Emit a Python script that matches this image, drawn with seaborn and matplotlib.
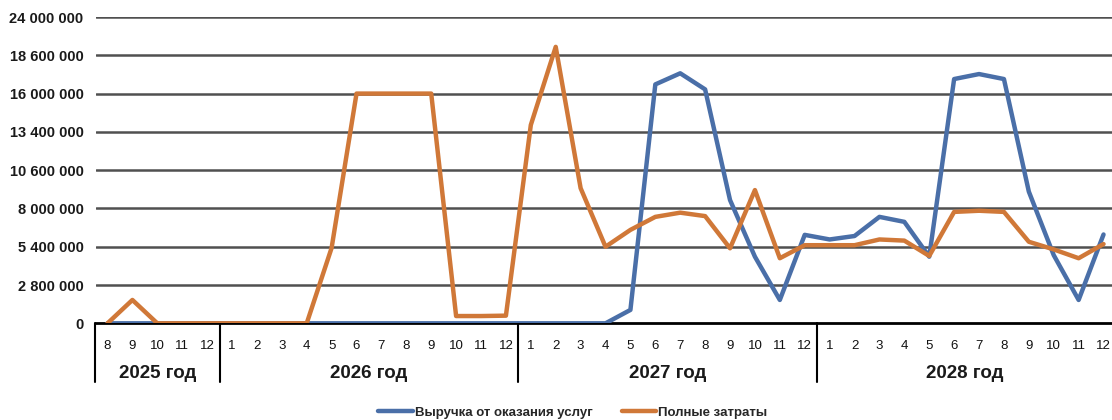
import matplotlib
matplotlib.use("Agg")
import matplotlib.pyplot as plt
import pandas as pd
import seaborn as sns


# months on the x axis, grouped by year
MONTHS_2025 = [8, 9, 10, 11, 12]
MONTHS_FULL = [1, 2, 3, 4, 5, 6, 7, 8, 9, 10, 11, 12]
YEARS = ["2025 год", "2026 год", "2027 год", "2028 год"]
MONTH_LABELS = MONTHS_2025 + MONTHS_FULL + MONTHS_FULL + MONTHS_FULL

REVENUE = [
    0, 0, 0, 0, 0,
    0, 0, 0, 0, 0, 0, 0, 0, 0, 0, 0, 0,
    0, 0, 0, 0, 1050000, 18720000, 19590000, 18330000, 9660000, 5220000, 1830000, 6930000,
    6570000, 6840000, 8340000, 7950000, 5220000, 19140000, 19530000, 19140000, 10320000, 5340000, 1830000, 6960000,
]
COSTS = [
    0, 1830000, 0, 0, 0,
    0, 0, 0, 0, 5910000, 18000000, 18000000, 18000000, 18000000, 570000, 570000, 600000,
    15540000, 21660000, 10590000, 6000000, 7320000, 8340000, 8670000, 8400000, 5880000, 10440000, 5100000, 6120000,
    6120000, 6120000, 6570000, 6480000, 5280000, 8730000, 8820000, 8730000, 6390000, 5790000, 5100000, 6210000,
]

Y_TICKS = [0, 3000000, 6000000, 9000000, 12000000, 15000000, 18000000, 21000000, 24000000]
Y_TICK_LABELS = ["0", "2 800 000", "5 400 000", "8 000 000", "10 600 000",
                 "13 400 000", "16 000 000", "18 600 000", "24 000 000"]

SERIES_NAMES = ["Выручка от оказания услуг", "Полные затраты"]
COLORS = ["#4A6FA8", "#D07838"]


def main() -> None:
    sns.set_theme(style="white")
    plt.rcParams["font.family"] = ["Liberation Sans", "DejaVu Sans"]

    n = len(MONTH_LABELS)
    df = pd.DataFrame({
        "idx": list(range(n)) * 2,
        "value": REVENUE + COSTS,
        "series": [SERIES_NAMES[0]] * n + [SERIES_NAMES[1]] * n,
    })

    fig = plt.figure(figsize=(11.12, 4.2), dpi=100)
    ax = fig.add_axes([96 / 1112, 0.2302, 1 - 96 / 1112, 0.7293])

    for y in Y_TICKS[1:]:
        ax.axhline(y, color="#505050", lw=1.8, zorder=1)

    sns.lineplot(
        data=df, x="idx", y="value", hue="series",
        palette=dict(zip(SERIES_NAMES, COLORS)),
        linewidth=3.2, ax=ax, legend=False, zorder=3,
    )

    ax.set_xlim(-0.462, 40.34)
    ax.set_ylim(0, 24000000)
    for side in ["top", "right", "left"]:
        ax.spines[side].set_visible(False)
    ax.spines["bottom"].set_color("black")
    ax.spines["bottom"].set_linewidth(2)
    ax.spines["bottom"].set_zorder(2)

    ax.set_yticks(Y_TICKS, Y_TICK_LABELS)
    ax.tick_params(axis="y", length=0, pad=9, labelsize=10.5, labelcolor="#1a1a1a")
    for lbl in ax.get_yticklabels():
        lbl.set_fontweight("bold")

    ax.set_xticks(range(n), [str(m) for m in MONTH_LABELS])
    ax.tick_params(axis="x", length=0, pad=12, labelsize=9.5, labelcolor="#111111")
    ax.set_xlabel("")
    ax.set_ylabel("")

    # year group separators and labels below the month ticks
    trans = ax.get_xaxis_transform()
    group_sizes = [len(MONTHS_2025), 12, 12, 12]
    edges = [-0.5]
    for size in group_sizes:
        edges.append(edges[-1] + size)
    for e in edges[:-1]:
        ax.plot([e, e], [0, -0.193], color="black", lw=1.5, transform=trans, clip_on=False)
    for year, left, right in zip(YEARS, edges[:-1], edges[1:]):
        right = min(right, 40.34)
        ax.text((left + right) / 2, -0.163, year, transform=trans, ha="center", va="center",
                fontsize=13.5, fontweight="bold", color="#1a1a1a")

    handles = [plt.Line2D([], [], color=c, lw=3.2) for c in COLORS]
    fig.legend(handles, SERIES_NAMES, loc="center", bbox_to_anchor=(0.515, 0.017),
               ncol=2, frameon=False, handlelength=2.6, handletextpad=0.15,
               columnspacing=2.2, prop={"weight": "bold", "size": 9.5})

    fig.savefig("out.png", dpi=100)
    plt.close(fig)


if __name__ == "__main__":
    main()
